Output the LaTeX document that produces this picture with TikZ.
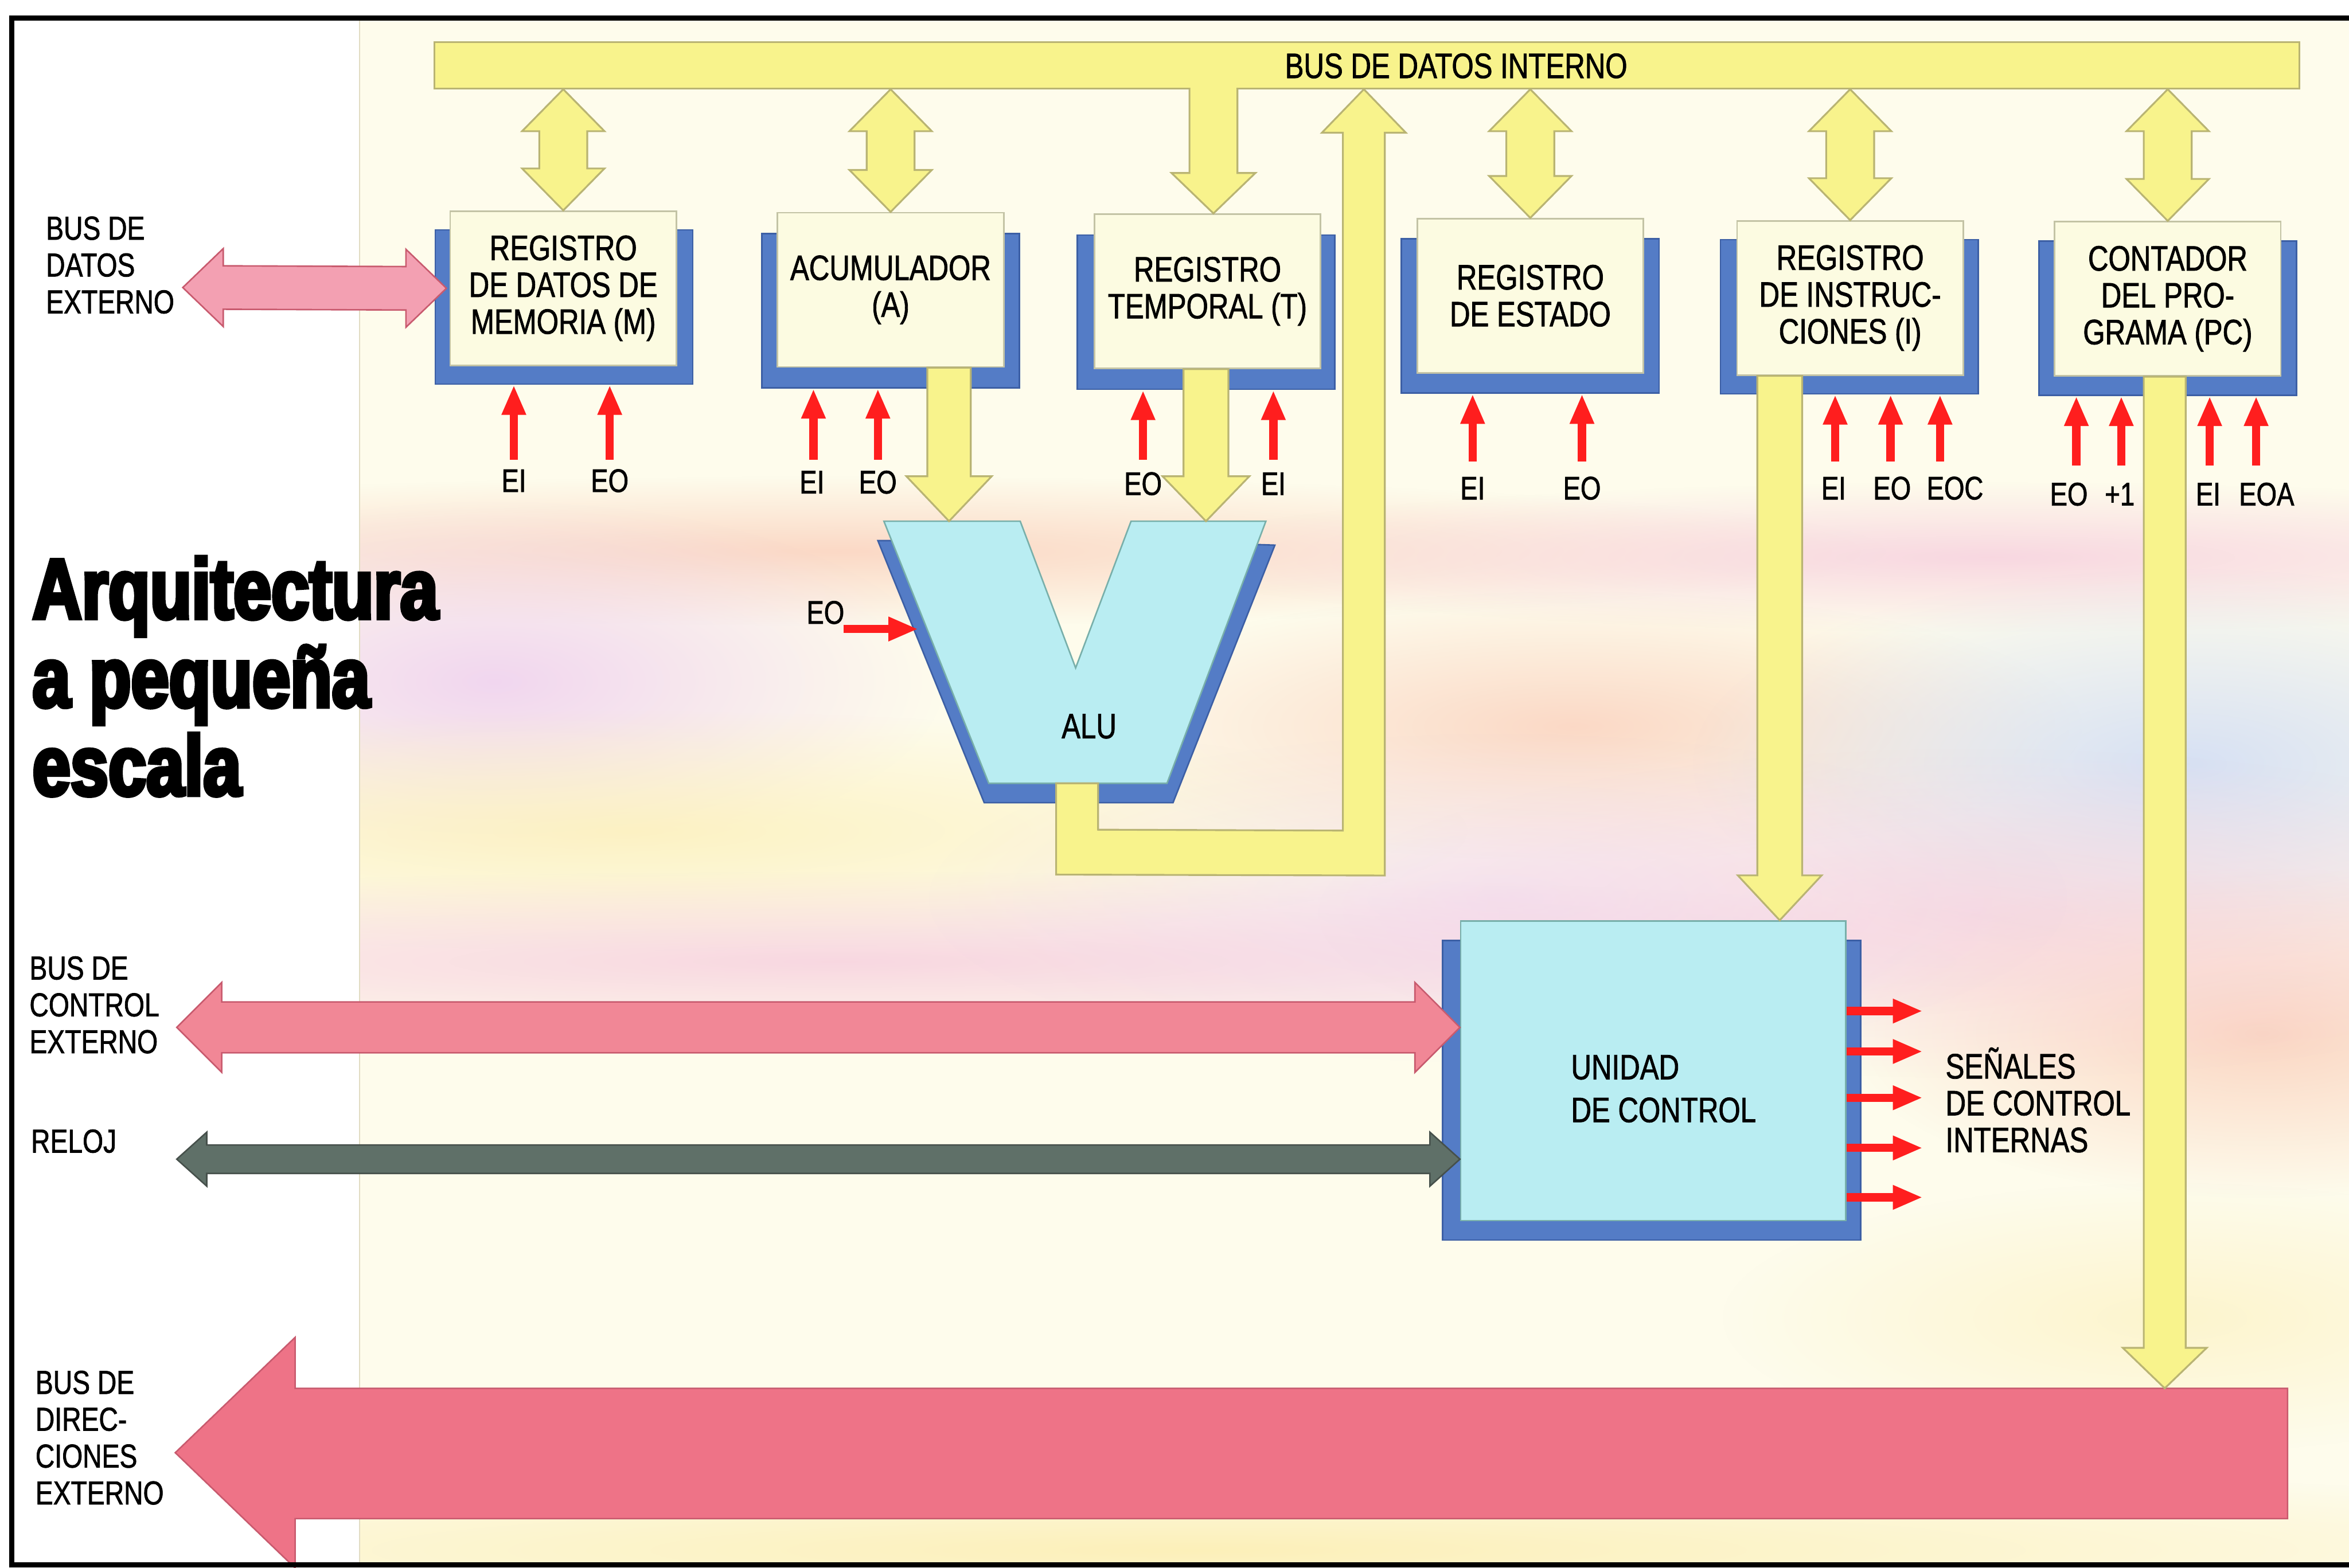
\documentclass[tikz,border=0pt]{standalone}
\usepackage{fontspec}
\setmainfont{Liberation Sans}[FakeStretch=0.8, FakeBold=1.3]
\newfontfamily\titlefont{Liberation Sans}[FakeStretch=0.80, BoldFeatures={FakeBold=4.5}]
\usetikzlibrary{arrows.meta,calc,fadings}
\definecolor{yelc}{RGB}{248,243,140}
\definecolor{yell}{RGB}{185,180,115}
\definecolor{cream}{RGB}{252,251,225}
\definecolor{creaml}{RGB}{195,195,165}
\definecolor{rblue}{RGB}{84,124,198}
\definecolor{rbluel}{RGB}{60,95,165}
\definecolor{cyanc}{RGB}{185,237,242}
\definecolor{cyanl}{RGB}{120,175,170}
\definecolor{pinkd}{RGB}{243,160,178}
\definecolor{pinkc}{RGB}{241,135,150}
\definecolor{pinka}{RGB}{238,115,135}
\definecolor{pinkl}{RGB}{200,90,110}
\definecolor{clk}{RGB}{95,112,104}
\definecolor{clkl}{RGB}{70,80,75}
\definecolor{sred}{RGB}{255,30,30}
\definecolor{bgc}{RGB}{254,252,236}
\definecolor{sepl}{RGB}{225,220,195}
\definecolor{bOr}{RGB}{250,205,185}
\definecolor{bPk}{RGB}{246,200,220}
\definecolor{bLv}{RGB}{238,205,240}
\definecolor{bBl}{RGB}{205,218,246}
\definecolor{bYe}{RGB}{252,240,185}
\tikzfading[name=soft, inner color=transparent!0, outer color=transparent!100]
\newcommand\fReg{\fontsize{6.7}{7}\selectfont}
\newcommand\fSig{\fontsize{6.2}{7}\selectfont}
\newcommand\fLbl{\fontsize{6.3}{7}\selectfont}
\newcommand\fTitle{\titlefont\bfseries\fontsize{16.2}{17}\selectfont}
% vertical double block arrow: top tip, bottom tip
\newcommand\ydbl[2]{\filldraw[yel] (#1) -- ++(27.5,28) -- ++(-11.5,0) -- ($(#2)+(16,-28)$) -- ++(11.5,0) -- (#2) -- ++(-27.5,-28) -- ++(11.5,0) -- ($(#1)+(-16,28)$) -- ++(-11.5,0) -- cycle;}
% vertical single block arrow downwards: start, tip, shaft half, head half, head length
\newcommand\ysgl[5]{\filldraw[yel] ($(#1)+(-#3,0)$) -- ($(#2)+(-#3,-#5)$) -- ($(#2)+(-#4,-#5)$) -- (#2) -- ($(#2)+(#4,-#5)$) -- ($(#2)+(#3,-#5)$) -- ($(#1)+(#3,0)$) -- cycle;}
% horizontal double block arrow: style, left tip, right tip, shaft half, head half, head length
\newcommand\hdbl[6]{\filldraw[#1] (#2) -- ++(#6,-#5) -- ++(0,#5-#4) -- ($(#3)+(-#6,-#4)$) -- ++(0,#4-#5) -- (#3) -- ++(-#6,#5) -- ++(0,#4-#5) -- ($(#2)+(#6,#4)$) -- ++(0,#5-#4) -- cycle;}
\tikzset{
 every node/.style={inner sep=0pt},
 bus/.style={fill=yelc, draw=yell, line width=0.12mm, minimum width=124.5mm, minimum height=3.1mm},
 yel/.style={fill=yelc, draw=yell, line width=0.12mm},
 reg/.style={fill=cream, draw=creaml, line width=0.1mm, minimum width=15.1mm, minimum height=10.3mm, align=center, font=\fReg},
 regback/.style={fill=rblue, draw=rbluel, line width=0.1mm, minimum width=17.2mm, minimum height=10.3mm},
 cu/.style={fill=cyanc, draw=cyanl, line width=0.1mm, minimum width=25.7mm, minimum height=20mm},
 cuback/.style={fill=rblue, draw=rbluel, line width=0.1mm, minimum width=27.9mm, minimum height=20mm},
 aluf/.style={fill=cyanc, draw=cyanl, line width=0.1mm},
 alub/.style={fill=rblue, draw=rbluel, line width=0.1mm},
 sig/.style={font=\fSig},
 lbl/.style={font=\fLbl, align=left, anchor=west},
 titlest/.style={font=\fTitle, anchor=base west},
 redarr/.style={draw=sred, line width=0.55mm, -{Triangle[width=1.5mm,length=2mm]}},
 pinkD/.style={fill=pinkd, draw=pinkl, line width=0.1mm},
 pinkC/.style={fill=pinkc, draw=pinkl, line width=0.1mm},
 pinkA/.style={fill=pinka, draw=pinkl, line width=0.1mm},
 clkA/.style={fill=clk, draw=clkl, line width=0.1mm}
}
\begin{document}
\begin{tikzpicture}[x=0.1mm,y=-0.1mm]
\useasboundingbox (0,0) rectangle (1568,1047);
\fill[white] (0,0) rectangle (1568,1047);
\fill[bgc] (240,12) rectangle (1568,1045);
\begin{scope}
 \clip (240,12) rectangle (1568,1045);
 \foreach \cx/\cy/\rx/\ry/\cl/\op in {560/368/700/50/bOr/0.75, 1330/372/560/50/bPk/0.7, 330/455/300/120/bLv/0.8, 1050/485/340/90/bOr/0.75, 1460/510/330/130/bBl/0.8, 420/555/560/80/bYe/0.8, 560/642/900/60/bPk/0.7, 1510/690/280/110/bOr/0.8, 1320/610/440/110/bPk/0.6, 800/1035/1100/60/bYe/1, 1000/600/380/110/bLv/0.5, 1450/880/300/90/bYe/0.6}
  {\fill[\cl, opacity=\op, path fading=soft] (\cx,\cy) ellipse [x radius=\rx, y radius=\ry];}
\end{scope}
\draw[sepl, line width=0.1mm] (240,12) -- (240,1045);

% title
\node[titlest] (t1) at (21,413) {Arquitectura};
\node[titlest] (t2) at (21,472) {a pequeña};
\node[titlest] (t3) at (21,531) {escala};

% left labels
\node[lbl] (ldat) at (30,177) {BUS DE\\DATOS\\EXTERNO};
\node[lbl] (lctl) at (19,671) {BUS DE\\CONTROL\\EXTERNO};
\node[lbl] (lclk) at (20,762) {RELOJ};
\node[lbl] (ladr) at (23,960) {BUS DE\\DIREC-\\CIONES\\EXTERNO};

% internal bus
\node[bus] (bus) at (912.5,43.5) {};

% blue backs
\node[regback] (Mb) at (376.5,205) {};
\node[regback] (Ab) at (594.5,207.5) {};
\node[regback] (Tb) at (805,208.5) {};
\node[regback] (Eb) at (1021.5,211) {};
\node[regback] (Ib) at (1234.5,211.5) {};
\node[regback] (Pb) at (1447,212.5) {};
\node[cuback] (CUb) at (1102.5,728) {};

% fronts
\node[reg] (M) at (376,192.5) {REGISTRO\\DE DATOS DE\\MEMORIA (M)};
\node[reg] (A) at (594.5,193.5) {ACUMULADOR\\(A)};
\node[reg] (T) at (806,194.5) {REGISTRO\\TEMPORAL (T)};
\node[reg] (E) at (1021.5,197.5) {REGISTRO\\DE ESTADO};
\node[reg] (I) at (1235,199) {REGISTRO\\DE INSTRUC-\\CIONES (I)};
\node[reg] (PC) at (1447,199.5) {CONTADOR\\DEL PRO-\\GRAMA (PC)};
\node[cu] (CU) at (1103.5,715) {};

% external buses
\coordinate (dbL) at (122,192);
\coordinate (dbR) at ($(M.west)+(-2,0)$);
\hdbl{pinkD}{dbL}{dbR}{14.5}{26}{27}
\coordinate (cbL) at (118,686);
\coordinate (cbR) at (cbL -| CU.west);
\hdbl{pinkC}{cbL}{cbR}{17}{30}{30}
\coordinate (ckL) at (118,774);
\coordinate (ckR) at (ckL -| CU.west);
\hdbl{clkA}{ckL}{ckR}{9.5}{18}{20}
\coordinate (ab) at (117,970);
\coordinate (abR) at (1527,927);
\filldraw[pinkA] (ab) -- ++(80,-77) -- ++(0,34) -- (abR) -- ++(0,87) -- ($(ab)+(80,44)$) -- ++(0,33) -- cycle;

% ALU
\filldraw[alub] (586,361) -- (676,361) -- (716,458) -- (760,361) -- (851,364) -- (783,536) -- (657,536) -- cycle;
\filldraw[aluf] (590,348) -- (681,348) -- (718,446) -- (755,348) -- (845,348) -- (779,523) -- (660,523) -- cycle;
\node[font=\fReg] (alu) at (727,485) {ALU};
\coordinate (aluTop) at (700,348);
\coordinate (aluOut) at (719,523);

% yellow double arrows bus <-> registers
\foreach \r in {M,A,E,I,PC} {\coordinate (t\r) at (\r.north |- bus.south); \ydbl{t\r}{\r.north}}
% bus -> T
\coordinate (Tt) at ($(T.north)+(4,0)$);
\coordinate (Ts) at (Tt |- bus.center);
\ysgl{Ts}{Tt}{16}{28}{27}
\fill[yelc] ($(bus.north west)+(1.2,1.2)$) rectangle ($(bus.south east)+(-1.2,-1.2)$);
\node[font=\fReg] (bustxt) at (972,44) {BUS DE DATOS INTERNO};
% A -> ALU, T -> ALU
\coordinate (Ao) at ($(A.south)+(39,0)$);
\coordinate (Aot) at (Ao |- aluTop);
\ysgl{Ao}{Aot}{14.5}{28.5}{30}
\coordinate (To) at ($(T.south)+(-1,0)$);
\coordinate (Tot) at (To |- aluTop);
\ysgl{To}{Tot}{15}{29}{30}
% ALU -> bus
\coordinate (busIn) at ($(bus.south west)+(621,0)$);
\filldraw[yel] ($(aluOut)+(-14,0)$) -- ++(0,61) -- ($(busIn)+(14,525)$) -- ($(busIn)+(14,29)$) -- ++(14,0) -- (busIn) -- ++(-28,29) -- ++(14,0) -- ($(busIn)+(-14,495)$) -- ($(aluOut)+(14,31)$) -- ($(aluOut)+(14,0)$) -- cycle;
% I -> CU
\coordinate (Io) at ($(I.south)+(-47,0)$);
\coordinate (Iot) at (Io |- CU.north);
\ysgl{Io}{Iot}{15}{28}{30}
% PC -> address bus
\coordinate (Po) at ($(PC.south)+(-2,0)$);
\coordinate (Pot) at (Po |- abR);
\ysgl{Po}{Pot}{14}{28}{27}

% red control arrows
\foreach \xx/\yt/\bk in {343/307/Mb, 407/307/Mb, 543/307/Ab, 586/307/Ab, 763/307/Tb, 850/307/Tb, 983/308/Eb, 1056/308/Eb, 1225/308/Ib, 1262/308/Ib, 1295/308/Ib, 1386/311/Pb, 1416/311/Pb, 1475/311/Pb, 1506/311/Pb}
 {\coordinate (rt) at (\xx,\yt); \draw[redarr] (rt) -- (rt |- \bk.south);}
\foreach \nm/\xx/\yy/\tx in {Mei/343/321/EI, Meo/407/321/EO, Aei/542/322/EI, Aeo/586/322/EO, Teo/763/323/EO, Tei/850/323/EI, Eei/983/326/EI, Eeo/1056/326/EO, Iei/1224/326/EI, Ieo/1263/326/EO, Ieoc/1305/326/EOC, Peo/1381/330/EO, Pp1/1415/330/+1, Pei/1474/330/EI, Peoa/1513/330/EOA}
 {\node[sig] (\nm) at (\xx,\yy) {\tx};}
% ALU EO
\node[sig] (aluEO) at (551,409) {EO};
\coordinate (ae1) at (563,420);
\draw[redarr] (ae1) -- ++(50,0);

% control unit outputs
\foreach \yy in {675.6,702.6,733.5,767,800}
 {\path (CU.north east) ++(0,\yy-615) coordinate (so); \draw[redarr] (so) -- ++(51,0);}
\node[font=\fReg, align=left, anchor=west] (cutxt) at (1048,727) {UNIDAD\\[0.4mm]DE CONTROL};
\node[font=\fReg, align=left, anchor=west] (sen) at (1298,734.5) {SEÑALES\\DE CONTROL\\INTERNAS};

% frame
\draw[line width=0.35mm, black] (1568,12) -- (8,12) -- (8,1045) -- (1568,1045);
\end{tikzpicture}
\end{document}
